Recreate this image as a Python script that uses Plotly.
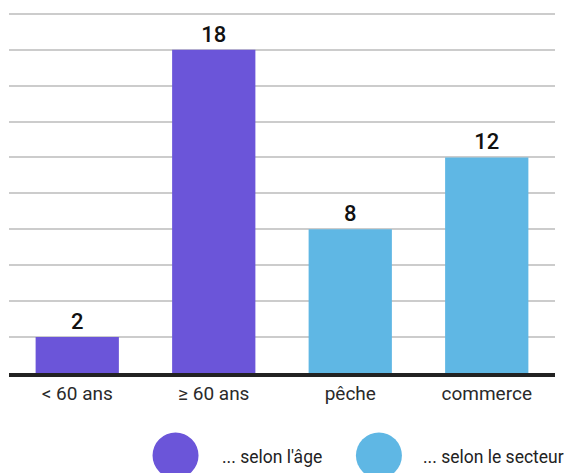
import plotly.graph_objects as go

# data
age_labels = ['< 60 ans', '≥ 60 ans']
age_values = [2, 18]
sector_labels = ['pêche', 'commerce']
sector_values = [8, 12]
series_names = ["... selon l'âge", "... selon le secteur"]

PURPLE = '#6b55d9'
BLUE = '#5fb7e4'
FONT = 'Roboto, sans-serif'

fig = go.Figure()

for labels, values, color in [(age_labels, age_values, PURPLE),
                              (sector_labels, sector_values, BLUE)]:
    fig.add_trace(go.Bar(
        x=labels,
        y=values,
        marker=dict(color=color, line=dict(width=0)),
        text=[str(v) for v in values],
        textposition='outside',
        textfont=dict(family=FONT, size=22, color='#111111', weight=500),
        cliponaxis=False,
        showlegend=False
    ))

# hand-made legend with big round markers
circle_x = [0.305, 0.6775]
text_x = [0.387, 0.755]
for name, color, cx, tx in zip(series_names, [PURPLE, BLUE], circle_x, text_x):
    fig.add_shape(
        type='circle', xref='paper', yref='paper',
        xsizemode='pixel', ysizemode='pixel',
        xanchor=cx, yanchor=-0.2284,
        x0=-23, x1=23, y0=-23, y1=23,
        fillcolor=color, line=dict(width=0)
    )
    fig.add_annotation(
        x=tx, y=-0.234, xref='paper', yref='paper',
        text=name, showarrow=False, xanchor='left', yanchor='middle',
        font=dict(family=FONT, size=17.5, color='#222222')
    )

# the page body adds an 8px margin, so the figure is sized to fit the window
fig.update_layout(
    width=564,
    height=465,
    barmode='overlay',
    bargap=0.39,
    paper_bgcolor='white',
    plot_bgcolor='white',
    margin=dict(l=1, r=17, t=4, b=100),
    font=dict(family=FONT),
    xaxis=dict(
        categoryorder='array',
        categoryarray=age_labels + sector_labels,
        showline=True,
        linecolor='#222222',
        linewidth=4,
        showgrid=False,
        ticks='',
        tickfont=dict(family=FONT, size=19, color='#2a2a2a')
    ),
    yaxis=dict(
        # a little headroom so the top gridline (20) is not dropped at the edge
        range=[0, 20.1],
        dtick=2,
        showticklabels=False,
        gridcolor='#cccccc',
        gridwidth=2,
        zeroline=False
    )
)

fig.write_html("out.html")
